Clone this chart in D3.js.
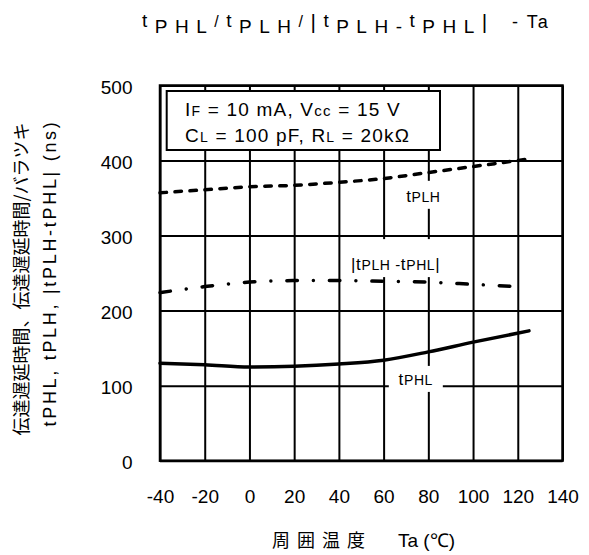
<!DOCTYPE html>
<html>
<head>
<meta charset="utf-8">
<script src="https://cdn.jsdelivr.net/npm/d3@7"></script>
<style>
  html, body { margin: 0; padding: 0; background: #fff; }
  svg { display: block; }
  text { font-family: "Liberation Sans", Arial, sans-serif; fill: #000; }
  .jp { font-family: "Noto Sans CJK JP", "Noto Sans", sans-serif; }
</style>
</head>
<body>
<script>
// Propagation delay vs ambient temperature (IF = 10 mA, Vcc = 15 V, CL = 100 pF, RL = 20kΩ)
const tempC     = [-40, -20, 0, 20, 40, 60, 80, 100, 125];
const tPLH      = [357, 361, 365, 367, 371, 376, 384, 392, 402];
const tPHL      = [130, 128, 125, 126, 129, 134, 145, 158, 173];
const tempSkew  = [-40, -20, 0, 20, 40, 60, 80, 100, 120];
const tSkew     = [224, 232, 238, 240, 240, 239, 238, 235, 232];

const xTicks = [-40, -20, 0, 20, 40, 60, 80, 100, 120, 140];
const yTicks = [0, 100, 200, 300, 400, 500];

const W = 589, H = 555;
const plotL = 160, plotR = 562.5, plotT = 85.5, plotB = 460.7;

const svg = d3.select("body").append("svg").attr("width", W).attr("height", H);

const x = d3.scaleLinear().domain([-40, 140]).range([plotL, plotR]);
const y = d3.scaleLinear().domain([0, 500]).range([plotB, plotT]);

// grid + tick labels
const gx = svg.append("g").attr("transform", `translate(0,${plotB})`)
  .call(d3.axisBottom(x).tickValues(xTicks).tickSize(-(plotB - plotT)).tickPadding(29)
    .tickFormat(d => d));
const gy = svg.append("g").attr("transform", `translate(${plotL},0)`)
  .call(d3.axisLeft(y).tickValues(yTicks).tickSize(-(plotR - plotL)).tickPadding(27.5));
[gx, gy].forEach(g => {
  g.select(".domain").remove();
  g.selectAll(".tick line").attr("stroke", "#000").attr("stroke-width", 2);
  g.selectAll(".tick text").attr("font-size", 19).attr("fill", "#000")
    .attr("font-family", '"Liberation Sans", Arial, sans-serif');
});
gy.selectAll(".tick text").attr("dy", "0.4em");

// frame
svg.append("rect").attr("x", plotL).attr("y", plotT)
  .attr("width", plotR - plotL).attr("height", plotB - plotT)
  .attr("fill", "none").attr("stroke", "#000").attr("stroke-width", 2.5);

// condition box
const cond = svg.append("g");
cond.append("rect").attr("x", 166.7).attr("y", 91).attr("width", 273.3).attr("height", 59)
  .attr("fill", "#fff").attr("stroke", "#000").attr("stroke-width", 2);
function richText(g, xPos, yPos, parts, size, ls) {
  const t = g.append("text").attr("x", xPos).attr("y", yPos)
    .attr("font-size", size).attr("letter-spacing", ls);
  let base = 0;
  parts.forEach(([s, fs, off]) => {
    const sp = t.append("tspan").text(s).attr("font-size", fs || size);
    const o = off || 0;
    sp.attr("dy", o - base);
    base = o;
  });
  return t;
}
richText(cond, 185, 115.5, [["I"], ["F", 14], [" = 10 mA, V"], ["cc", 15], [" = 15 V"]], 19, 1.2);
richText(cond, 185, 142, [["C"], ["L", 14], [" = 100 pF, R"], ["L", 14], [" = 20kΩ"]], 19, 1.2);

// white backing behind curve labels
const labelBoxes = [
  { tx: 77.8, ty: 345, w: 44, h: 28 },
  { tx: 65.4, ty: 254, w: 104, h: 38 },
  { tx: 74.4, ty: 101, w: 54, h: 26 }
];
svg.selectAll("rect.lblbg").data(labelBoxes).join("rect").attr("class", "lblbg")
  .attr("x", d => x(d.tx) - d.w / 2)
  .attr("y", d => y(d.ty) - d.h + 7)
  .attr("width", d => d.w).attr("height", d => d.h)
  .attr("fill", "#fff");

// curves
const lineGen = (xs) => d3.line().x((d, i) => x(xs[i])).y(d => y(d)).curve(d3.curveMonotoneX);
svg.append("path").datum(tPLH).attr("d", lineGen(tempC))
  .attr("fill", "none").attr("stroke", "#000").attr("stroke-width", 3.5)
  .attr("stroke-linecap", "round").attr("stroke-dasharray", "6.5,8.5");
svg.append("path").datum(tSkew).attr("d", lineGen(tempSkew))
  .attr("fill", "none").attr("stroke", "#000").attr("stroke-width", 3.5)
  .attr("stroke-linecap", "round").attr("stroke-dasharray", "10.5,16,0.01,16");
svg.append("path").datum(tPHL).attr("d", lineGen(tempC))
  .attr("fill", "none").attr("stroke", "#000").attr("stroke-width", 3.5)
  .attr("stroke-linecap", "round");

// curve labels
function curveLabel(tx, ty, parts) {
  const t = richText(svg, x(tx), y(ty), parts, 16, 0.6);
  t.attr("text-anchor", "middle");
}
curveLabel(77.8, 345, [["t", 17], ["PLH", 14]]);
curveLabel(65.4, 254, [["|", 17], ["t", 17], ["PLH", 14], [" -", 15], ["t", 17], ["PHL", 14], ["|", 17]]);
curveLabel(74.4, 101, [["t", 17], ["PHL", 14]]);

// title
const title = svg.append("text").attr("x", 142).attr("y", 27)
  .attr("font-size", 19).attr("letter-spacing", 7.5);
const titleParts = [
  ["t", 19, 0], ["PHL", 19, 6], ["/", 16, 0], ["t", 19, 0], ["PLH", 19, 6], ["/", 16, 0],
  ["|", 21, 2], ["t", 19, 0], ["PLH", 19, 6], ["-", 19, 6], ["t", 19, 0], ["PHL", 19, 6], ["|", 21, 2]
];
let tb = 0;
titleParts.forEach(([s, fs, off]) => {
  title.append("tspan").text(s).attr("font-size", fs).attr("dy", off - tb);
  tb = off;
});
svg.append("text").attr("x", 512).attr("y", 28).attr("font-size", 18)
  .attr("letter-spacing", 2).text("- Ta");

// axis titles
svg.append("text").attr("class", "jp")
  .attr("transform", "translate(28,279) rotate(-90)")
  .attr("text-anchor", "middle").attr("font-size", 18)
  .text("伝達遅延時間、伝達遅延時間/バラツキ");
svg.append("text")
  .attr("transform", "translate(56,273) rotate(-90)")
  .attr("text-anchor", "middle").attr("font-size", 18).attr("letter-spacing", 2.7)
  .text("tPHL, tPLH, |tPLH-tPHL| (ns)");

svg.append("text").attr("class", "jp").attr("x", 272).attr("y", 547)
  .attr("font-size", 18).attr("letter-spacing", 7).text("周囲温度");
svg.append("text").attr("x", 398).attr("y", 547).attr("font-size", 19).text("Ta (℃)");
</script>
</body>
</html>
